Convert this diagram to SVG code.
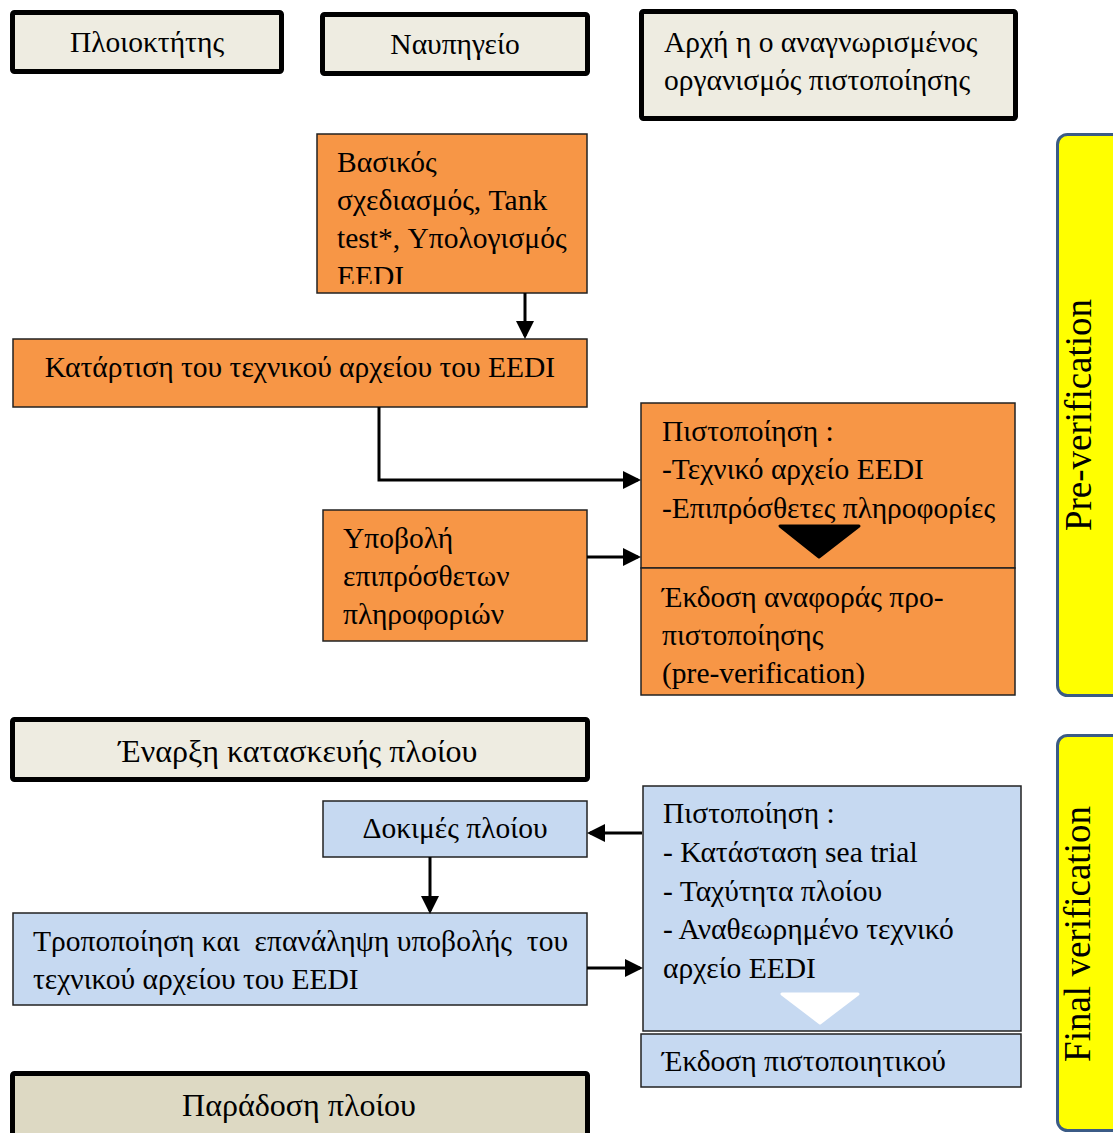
<svg xmlns="http://www.w3.org/2000/svg" width="1113" height="1133" viewBox="0 0 1113 1133">
<style>
text{font-family:"Liberation Serif","Times New Roman",serif;font-size:29.5px;fill:#000;white-space:pre}
.hdr{fill:#EEECE1;stroke:#000;stroke-width:5}
.or{fill:#F79646;stroke:#222;stroke-width:1.5}
.bl{fill:#C6D9F1;stroke:#222;stroke-width:1.5}
.yel{fill:#FFFF00;stroke:#3B5B86;stroke-width:3}
.vt{font-size:37px}
.big{font-size:32px}
.c{text-anchor:middle}
.con{fill:none;stroke:#000;stroke-width:3}
</style>
<defs>
<marker id="ah" markerWidth="6" markerHeight="6" refX="5" refY="3" orient="auto" markerUnits="strokeWidth">
<path d="M0,0 L6,3 L0,6 z" fill="#000"/>
</marker>
<clipPath id="clipB"><rect x="317" y="134" width="270" height="150"/></clipPath>
<clipPath id="clipE"><rect x="641" y="568" width="374" height="124"/></clipPath>
</defs>
<rect width="1113" height="1133" fill="#fff"/>

<g id="ploioktitis">
<rect class="hdr" x="12.5" y="12.5" width="269" height="59" rx="2"/>
<text class="c" x="147" y="52">Πλοιοκτήτης</text>
</g>
<g id="nafpigeio">
<rect class="hdr" x="322.5" y="14.5" width="265" height="59" rx="2"/>
<text class="c" x="455" y="54">Ναυπηγείο</text>
</g>
<g id="archi">
<rect class="hdr" x="641.5" y="11.5" width="374" height="107" rx="2"/>
<text x="664" y="52">Αρχή η ο αναγνωρισμένος</text>
<text x="664" y="90">οργανισμός πιστοποίησης</text>
</g>

<g id="preverification">
<rect class="yel" x="1057.5" y="134.5" width="70" height="561" rx="10"/>
<text class="vt c" transform="translate(1091,415) rotate(-90)">Pre-verification</text>
</g>
<g id="finalverification">
<rect class="yel" x="1057.5" y="735.5" width="70" height="395" rx="10"/>
<text class="vt c" transform="translate(1090,934) rotate(-90)">Final verification</text>
</g>

<g id="vasikos">
<rect class="or" x="317" y="134" width="270" height="159"/>
<g clip-path="url(#clipB)">
<text x="337" y="172">Βασικός</text>
<text x="337" y="210">σχεδιασμός, Tank</text>
<text x="337" y="248">test*, Υπολογισμός</text>
<text x="337" y="286">EEDI</text>
</g>
</g>
<g id="katartisi">
<rect class="or" x="13" y="339" width="574" height="68"/>
<text class="c" x="300" y="377">Κατάρτιση του τεχνικού αρχείου του EEDI</text>
</g>
<g id="pistopoiisi1">
<rect class="or" x="641" y="403" width="374" height="165"/>
<text x="662" y="441">Πιστοποίηση :</text>
<text x="662" y="479">-Τεχνικό αρχείο EEDI</text>
<text x="662" y="518">-Επιπρόσθετες πληροφορίες</text>
<polygon points="780,526 859,526 819,557" fill="#000" stroke="#000" stroke-width="3" stroke-linejoin="round"/>
</g>
<g id="ekdosi1">
<rect class="or" x="641" y="568" width="374" height="127"/>
<g clip-path="url(#clipE)">
<text x="662" y="607">Έκδοση αναφοράς προ-</text>
<text x="662" y="645">πιστοποίησης</text>
<text x="662" y="683">(pre-verification)</text>
</g>
</g>
<g id="ypovoli">
<rect class="or" x="323" y="510" width="264" height="131"/>
<text x="343" y="548">Υποβολή</text>
<text x="343" y="586">επιπρόσθετων</text>
<text x="343" y="624">πληροφοριών</text>
</g>

<g id="enarxi">
<rect class="hdr" x="12.5" y="719.5" width="575" height="60" rx="2"/>
<text class="c big" x="298" y="762">Έναρξη κατασκευής πλοίου</text>
</g>
<g id="dokimes">
<rect class="bl" x="323" y="801" width="264" height="56"/>
<text class="c" x="455" y="838">Δοκιμές πλοίου</text>
</g>
<g id="tropopoiisi">
<rect class="bl" x="13" y="913" width="574" height="92"/>
<text x="33" y="951">Τροποποίηση και  επανάληψη υποβολής  του</text>
<text x="33" y="989">τεχνικού αρχείου του EEDI</text>
</g>
<g id="pistopoiisi2">
<rect class="bl" x="643" y="786" width="378" height="245"/>
<text x="663" y="823">Πιστοποίηση :</text>
<text x="663" y="862">- Κατάσταση sea trial</text>
<text x="663" y="901">- Ταχύτητα πλοίου</text>
<text x="663" y="939">- Αναθεωρημένο τεχνικό</text>
<text x="663" y="978">αρχείο EEDI</text>
<polygon points="782,994 858,994 820,1023" fill="#fff" stroke="#fff" stroke-width="3" stroke-linejoin="round"/>
</g>
<g id="ekdosi2">
<rect class="bl" x="641" y="1034" width="380" height="53"/>
<text x="662" y="1071">Έκδοση πιστοποιητικού</text>
</g>
<g id="paradosi">
<rect x="12.5" y="1073.5" width="575" height="70" rx="2" fill="#DDD9C3" stroke="#000" stroke-width="5"/>
<text class="c big" x="299" y="1116">Παράδοση πλοίου</text>
</g>

<g id="connectors">
<path class="con" d="M525,293 V336" marker-end="url(#ah)"/>
<path class="con" d="M379,407 V480 H638" marker-end="url(#ah)"/>
<path class="con" d="M587,557 H638" marker-end="url(#ah)"/>
<path class="con" d="M642,833 H590" marker-end="url(#ah)"/>
<path class="con" d="M430,857 V911" marker-end="url(#ah)"/>
<path class="con" d="M587,968 H640" marker-end="url(#ah)"/>
</g>
</svg>
